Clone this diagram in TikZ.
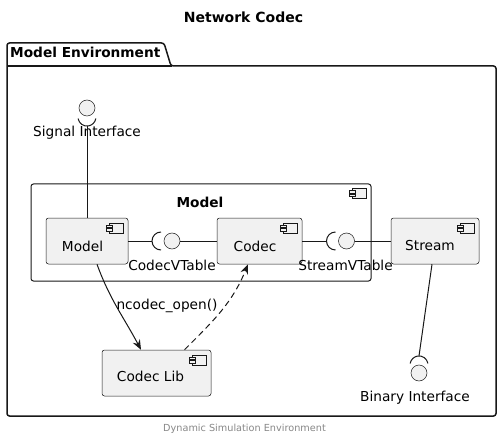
\documentclass[tikz,border=0pt]{standalone}
\usepackage{fontspec}
\setmainfont{DejaVu Sans}
\usetikzlibrary{arrows.meta}
\definecolor{boxfill}{HTML}{F1F1F1}
\definecolor{ink}{HTML}{181818}
\definecolor{foot}{HTML}{888888}
\tikzset{
  lbl/.style={inner sep=0pt, anchor=base, font=\fontsize{13.7}{16}\selectfont, text=black},
  blbl/.style={inner sep=0pt, anchor=base, font=\fontsize{13.7}{16}\selectfont\bfseries, text=black},
  comp/.style={draw=ink, line width=0.5pt, fill=boxfill, rounded corners=2.5pt, inner sep=0pt},
  iface/.style={circle, draw=ink, line width=0.5pt, fill=boxfill, minimum size=16pt, inner sep=0pt},
  wire/.style={draw=ink, line width=1pt},
  arr/.style={draw=ink, line width=1pt, -{Stealth[length=10pt,width=8pt,inset=3.5pt]}},
  compicon/.pic={
    \draw[ink, line width=0.5pt, fill=boxfill] (-19,-5) rectangle (-5,-15);
    \draw[ink, line width=0.5pt, fill=boxfill] (-22,-7.2) rectangle (-16,-9.6);
    \draw[ink, line width=0.5pt, fill=boxfill] (-22,-10.6) rectangle (-16,-13);
  }
}
\begin{document}
\begin{tikzpicture}[x=1pt,y=1pt]
\useasboundingbox (0,0) rectangle (501,-441);
\fill[white] (0,0) rectangle (501,-441);

% title
\node[inner sep=0pt, anchor=base, font=\fontsize{14}{16}\selectfont\bfseries] (title) at (243.5,-23) {Network Codec};

% package
\draw[ink, line width=1.5pt, rounded corners=2.5pt]
  (7,-66) -- (7,-43) -- (164,-43) -- (171,-66) -- (496,-66) -- (496,-416) -- (7,-416) -- cycle;
\draw[ink, line width=1.5pt] (7,-66) -- (172,-66);
\node[blbl, anchor=base west] (pkgname) at (10,-57.3) {Model Environment};

% outer Model component
\node[draw=ink, line width=1pt, rounded corners=2.5pt, minimum width=340pt, minimum height=97pt, inner sep=0pt] (outer) at (201,-232.5) {};
\pic at (outer.north east) {compicon};
\node[blbl] (outert) at (200,-207.7) {Model};

% inner components
\node[comp, minimum width=82pt, minimum height=46pt] (m) at (87,-241) {};
\pic at (m.north east) {compicon};
\node[lbl] (mt) at (82.5,-251.5) {Model};

\node[comp, minimum width=85pt, minimum height=46pt] (c) at (259.5,-241) {};
\pic at (c.north east) {compicon};
\node[lbl] (ct) at (255,-251.5) {Codec};

\node[comp, minimum width=88pt, minimum height=46pt] (s) at (435,-241) {};
\pic at (s.north east) {compicon};
\node[lbl] (st) at (430,-251) {Stream};

\node[comp, minimum width=109pt, minimum height=46pt] (lib) at (156.5,-373) {};
\pic at (lib.north east) {compicon};
\node[lbl] (libt) at (150.5,-381.7) {Codec Lib};

% interfaces
\node[iface] (sig) at (87,-108) {};
\node[iface] (cvt) at (172,-241) {};
\node[iface] (svt) at (346.5,-241) {};
\node[iface] (bin) at (419,-373) {};

% sockets
\draw[wire] (78.1,-118.6) arc (190:350:9);
\coordinate (sigs) at (87,-126);
\draw[wire] (161,-232) arc (90:270:9);
\coordinate (cvts) at (152,-241);
\draw[wire] (335.5,-232) arc (90:270:9);
\coordinate (svts) at (326.5,-241);
\draw[wire] (427.9,-363.4) arc (10:170:9);
\coordinate (bins) at (419,-356);

% interface labels
\node[lbl] (sigt) at (87,-136.7) {Signal Interface};
\node[lbl] (cvtt) at (172,-270) {CodecVTable};
\node[lbl] (svtt) at (345.5,-270) {StreamVTable};
\node[lbl] (bint) at (415,-401.7) {Binary Interface};

% wires
\draw[wire] (sigs) -- (m.north);
\draw[wire] (m.east) -- (cvts);
\draw[wire] (cvt.east) -- (c.west);
\draw[wire] (c.east) -- (svts);
\draw[wire] (svt.east) -- (s.west);
\draw[wire] ([xshift=-3pt]s.south) -- (bins);

% arrows
\draw[arr] ([xshift=10pt]m.south) to[out=-70,in=118] ([xshift=-15.5pt]lib.north);
\node[lbl] (callt) at (167,-309.3) {ncodec\_open()};
\draw[arr, dash pattern=on 6pt off 4pt] ([xshift=28pt]lib.north) to[out=45,in=-112] ([xshift=-11.5pt]c.south);

% footer
\node[inner sep=0pt, anchor=base, font=\fontsize{9.7}{11}\selectfont, text=foot] (footer) at (244.5,-431) {Dynamic Simulation Environment};
\end{tikzpicture}
\end{document}
